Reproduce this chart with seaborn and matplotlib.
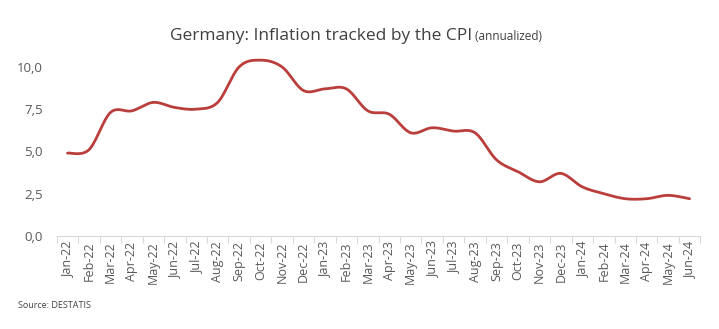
import numpy as np
import pandas as pd
import matplotlib
matplotlib.use("Agg")
import matplotlib.pyplot as plt
import seaborn as sns
from matplotlib.ticker import FixedLocator, FuncFormatter

months = ["Jan-22","Feb-22","Mar-22","Apr-22","May-22","Jun-22","Jul-22","Aug-22","Sep-22","Oct-22","Nov-22","Dec-22",
          "Jan-23","Feb-23","Mar-23","Apr-23","May-23","Jun-23","Jul-23","Aug-23","Sep-23","Oct-23","Nov-23","Dec-23",
          "Jan-24","Feb-24","Mar-24","Apr-24","May-24","Jun-24"]
cpi = [4.9, 5.1, 7.3, 7.4, 7.9, 7.6, 7.5, 7.9, 10.0, 10.4, 10.0, 8.6,
       8.7, 8.7, 7.4, 7.2, 6.1, 6.4, 6.2, 6.1, 4.5, 3.8, 3.2, 3.7,
       2.9, 2.5, 2.2, 2.2, 2.4, 2.2]
yticks = [0, 2.5, 5.0, 7.5, 10.0]

sns.set_theme(style="white")
plt.rcParams['font.family'] = ['Open Sans', 'DejaVu Sans']

# Excel-style smoothed line (Bezier rendering through the data points)
x = np.arange(len(cpi), dtype=float)
y = np.array(cpi, dtype=float)
def smooth(x, y, n=20):
    px = np.concatenate([[x[0]], x, [x[-1]]])
    py = np.concatenate([[y[0]], y, [y[-1]]])
    xs, ys = [], []
    for i in range(1, len(px) - 2):
        p0, p1, p2, p3 = [np.array([px[j], py[j]]) for j in (i-1, i, i+1, i+2)]
        c1 = p1 + (p2 - p0) / 6
        c2 = p2 - (p3 - p1) / 6
        t = np.linspace(0, 1, n, endpoint=False)[:, None]
        b = (1-t)**3*p1 + 3*(1-t)**2*t*c1 + 3*(1-t)*t**2*c2 + t**3*p2
        xs.extend(b[:, 0]); ys.extend(b[:, 1])
    xs.append(x[-1]); ys.append(y[-1])
    return np.array(xs), np.array(ys)

sx, sy = smooth(x, y)
df = pd.DataFrame({"x": sx, "y": sy})

fig = plt.figure(figsize=(7.19, 3.29), dpi=100)
ax = fig.add_axes([0.079, 0.283, 0.895, 0.565])
sns.lineplot(data=df, x="x", y="y", ax=ax, color="#BA3E3C", linewidth=2.0, sort=False)

ax.set_xlim(-0.5, len(cpi) - 0.5)
ax.set_ylim(0, 11)
ax.set_yticks(yticks)
ax.yaxis.set_major_formatter(FuncFormatter(lambda v, p: f"{v:.1f}".replace(".", ",")))
ax.set_xticks(x)
ax.set_xticklabels(months, rotation=90)
ax.xaxis.set_minor_locator(FixedLocator(np.arange(-0.5, len(cpi), 1.0)))
ax.tick_params(axis='x', which='major', length=0, pad=4, labelsize=9, labelcolor="#595959")
ax.tick_params(axis='x', which='minor', length=5, width=0.8, color="#D9D9D9", direction='out', bottom=True)
ax.tick_params(axis='y', length=0, pad=10, labelsize=9.5, labelcolor="#595959")
for s in ["top", "right", "left"]:
    ax.spines[s].set_visible(False)
ax.spines["bottom"].set_color("#D9D9D9")
ax.spines["bottom"].set_linewidth(0.8)
ax.set_xlabel("")
ax.set_ylabel("")
ax.grid(False)

t1 = fig.text(0.5, 1 - 40 / 329, "Germany: Inflation tracked by the CPI", fontsize=12.5, color="#404040", ha="left", va="baseline")
t2 = fig.text(0.5, 1 - 40 / 329, " (annualized)", fontsize=8.5, color="#404040", ha="left", va="baseline")
fig.canvas.draw()
r = fig.canvas.get_renderer()
w1 = t1.get_window_extent(r).width
w2 = t2.get_window_extent(r).width
W = fig.bbox.width
start = 356 - (w1 + w2) / 2
t1.set_x(start / W)
t2.set_x((start + w1) / W)

fig.text(18 / 719, 1 - 308 / 329, "Source: DESTATIS", fontsize=6.5, color="#404040", ha="left", va="baseline")

fig.savefig("out.png", dpi=100)
